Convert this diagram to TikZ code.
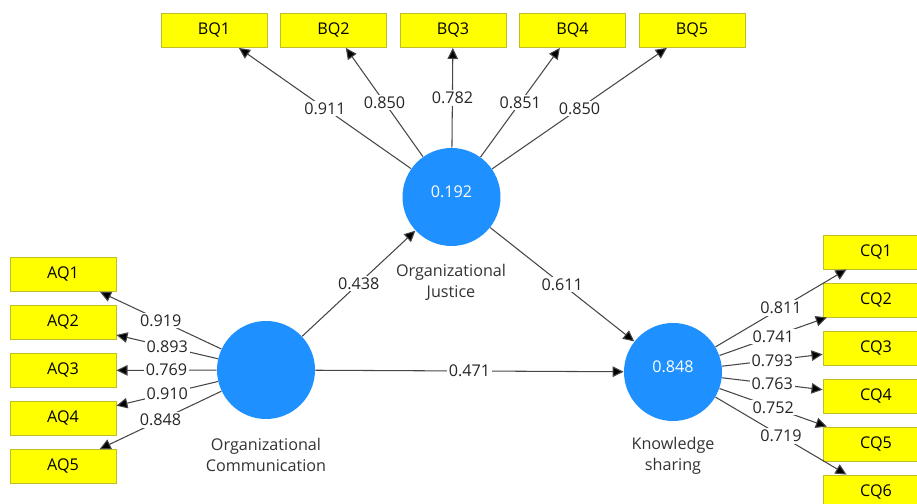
\documentclass[tikz,border=0pt]{standalone}
\usepackage{fontspec}
\setmainfont{Open Sans}
\usepackage{tikz}
\usetikzlibrary{positioning, arrows.meta, shapes.geometric}
\definecolor{lvblue}{RGB}{30,144,255}
\definecolor{indyellow}{RGB}{255,255,0}
\definecolor{indborder}{RGB}{190,190,40}
\definecolor{pathgray}{RGB}{70,70,70}

\begin{document}
\begin{tikzpicture}
		\tikzstyle{latent} = [shape=circle, minimum size=1.96cm, inner sep=0, fill=lvblue, text=white, font=\fontsize{9.2}{11}\selectfont]
		\tikzstyle{indicator} = [draw=indborder, fill=indyellow, minimum width=2.12cm, minimum height=0.68cm, inner sep=0, line width=0.5pt, font=\fontsize{9.2}{11}\selectfont]
		\tikzstyle{arrow} = [-{Triangle[length=6.3pt,width=6pt]}, draw=pathgray, line width=0.6pt]
		\tikzstyle{weight} = [fill=white, inner sep=1pt, text=black!85, font=\fontsize{9.2}{11}\selectfont]
		\tikzstyle{caption} = [align=center, text=black!80, font=\fontsize{9.2}{12}\selectfont]
		\useasboundingbox (0,0) rectangle (18.34,10.08);
		% latent variables
		\node [latent] (OJ) at (9.03,6.14) {\raisebox{1.3ex}{0.192}};
		\node [latent] (OC) at (5.32,2.68) {};
		\node [latent] (KS) at (13.46,2.64) {\raisebox{1.3ex}{0.848}};
		\node [caption] (OJ_txt) at (9.02,4.44) {Organizational\\Justice};
		\node [caption] (OC_txt) at (5.32,0.99) {Organizational\\Communication};
		\node [caption] (KS_txt) at (13.46,0.96) {Knowledge\\sharing};
		% indicators
		\node [indicator] (AQ1) at (1.26,4.59) {AQ1};
		\node [indicator] (AQ2) at (1.26,3.63) {AQ2};
		\node [indicator] (AQ3) at (1.26,2.67) {AQ3};
		\node [indicator] (AQ4) at (1.26,1.71) {AQ4};
		\node [indicator] (AQ5) at (1.26,0.75) {AQ5};
		\node [indicator] (BQ1) at (4.28,9.47) {BQ1};
		\node [indicator] (BQ2) at (6.67,9.47) {BQ2};
		\node [indicator] (BQ3) at (9.06,9.47) {BQ3};
		\node [indicator] (BQ4) at (11.45,9.47) {BQ4};
		\node [indicator] (BQ5) at (13.84,9.47) {BQ5};
		\node [indicator] (CQ1) at (17.52,5.04) {CQ1};
		\node [indicator] (CQ2) at (17.52,4.08) {CQ2};
		\node [indicator] (CQ3) at (17.52,3.12) {CQ3};
		\node [indicator] (CQ4) at (17.52,2.16) {CQ4};
		\node [indicator] (CQ5) at (17.52,1.20) {CQ5};
		\node [indicator] (CQ6) at (17.52,0.24) {CQ6};
		% outer loadings
		\draw [arrow] (OC) edge node [weight] {0.919} (AQ1);
		\draw [arrow] (OC) edge node [weight] {0.893} (AQ2);
		\draw [arrow] (OC) edge node [weight] {0.769} (AQ3);
		\draw [arrow] (OC) edge node [weight] {0.910} (AQ4);
		\draw [arrow] (OC) edge node [weight] {0.848} (AQ5);
		\draw [arrow] (OJ) edge node [weight] {0.911} (BQ1);
		\draw [arrow] (OJ) edge node [weight] {0.850} (BQ2);
		\draw [arrow] (OJ) edge node [weight] {0.782} (BQ3);
		\draw [arrow] (OJ) edge node [weight] {0.851} (BQ4);
		\draw [arrow] (OJ) edge node [weight] {0.850} (BQ5);
		\draw [arrow] (KS) edge node [weight] {0.811} (CQ1);
		\draw [arrow] (KS) edge node [weight] {0.741} (CQ2);
		\draw [arrow] (KS) edge node [weight] {0.793} (CQ3);
		\draw [arrow] (KS) edge node [weight] {0.763} (CQ4);
		\draw [arrow] (KS) edge node [weight] {0.752} (CQ5);
		\draw [arrow] (KS) edge node [weight] {0.719} (CQ6);
		% path coefficients
		\draw [arrow] (OC) edge node [weight] {0.438} (OJ);
		\draw [arrow] (OJ) edge node [weight] {0.611} (KS);
		\draw [arrow] (OC) edge node [weight] {0.471} (KS);
\end{tikzpicture}
\end{document}
